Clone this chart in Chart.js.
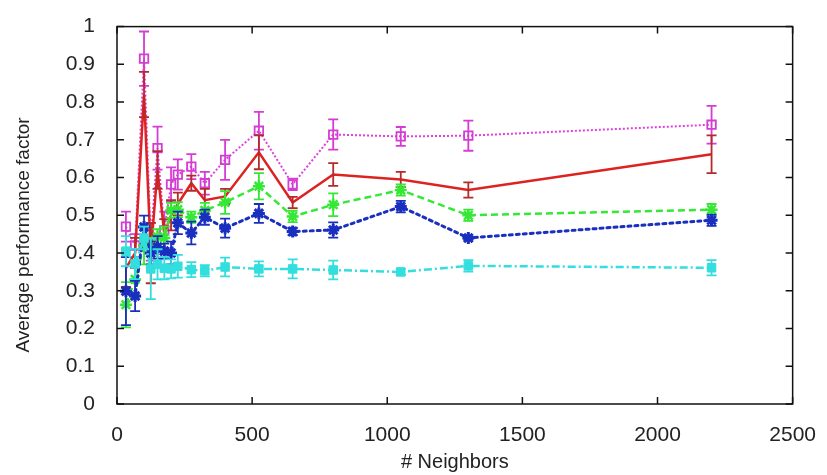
<!DOCTYPE html>
<html>
<head>
<meta charset="utf-8">
<title>Average performance factor</title>
<script src="https://cdn.jsdelivr.net/npm/chart.js@4.4.0/dist/chart.umd.min.js"></script>
<style>
  html, body { margin: 0; padding: 0; background: #fff; }
  #wrap { width: 827px; height: 475px; }
</style>
</head>
<body>
<div id="wrap"><canvas id="perfChart" width="827" height="475"></canvas></div>
<script>
// x values (# neighbors)
const neighbors = [33, 67, 100, 125, 150, 175, 200, 225, 275, 325, 400, 525, 650, 800, 1050, 1300, 2200];

// series values + error half widths
const magentaVals = [0.47, 0.42, 0.915, 0.43, 0.678, 0.46, 0.582, 0.608, 0.629, 0.585, 0.647, 0.724, 0.582, 0.714, 0.709, 0.711, 0.74];
const magentaErr  = [0.04, 0.03, 0.072, 0.05, 0.057, 0.05, 0.045, 0.04, 0.033, 0.03, 0.053, 0.05, 0.015, 0.04, 0.025, 0.04, 0.05];

const redVals = [0.36, 0.40, 0.82, 0.40, 0.62, 0.45, 0.50, 0.53, 0.585, 0.54, 0.55, 0.667, 0.534, 0.608, 0.595, 0.567, 0.662];
const redErr  = [0.05, 0.04, 0.06, 0.08, 0.05, 0.04, 0.04, 0.03, 0.02, 0.03, 0.02, 0.045, 0.015, 0.03, 0.02, 0.02, 0.05];

const greenVals = [0.263, 0.33, 0.42, 0.40, 0.443, 0.44, 0.513, 0.515, 0.495, 0.513, 0.534, 0.577, 0.497, 0.528, 0.567, 0.50, 0.515];
const greenErr  = [0.06, 0.05, 0.05, 0.04, 0.02, 0.03, 0.02, 0.02, 0.015, 0.02, 0.03, 0.035, 0.015, 0.03, 0.015, 0.015, 0.015];

const blueVals = [0.299, 0.286, 0.469, 0.40, 0.415, 0.405, 0.40, 0.48, 0.453, 0.495, 0.466, 0.505, 0.457, 0.461, 0.523, 0.44, 0.487];
const blueErr  = [0.09, 0.04, 0.03, 0.03, 0.03, 0.02, 0.03, 0.03, 0.03, 0.02, 0.025, 0.025, 0.01, 0.02, 0.015, 0.005, 0.015];

const cyanVals = [0.405, 0.371, 0.44, 0.358, 0.37, 0.36, 0.358, 0.365, 0.356, 0.353, 0.363, 0.358, 0.358, 0.355, 0.35, 0.366, 0.361];
const cyanErr  = [0.04, 0.04, 0.03, 0.08, 0.04, 0.03, 0.025, 0.03, 0.02, 0.015, 0.025, 0.02, 0.025, 0.025, 0.008, 0.015, 0.02];

// axis ticks
const xTicks = [0, 500, 1000, 1500, 2000, 2500];
const yTicks = [0, 0.1, 0.2, 0.3, 0.4, 0.5, 0.6, 0.7, 0.8, 0.9, 1];

const FONT = '"Liberation Sans", Arial, sans-serif';
const TEXT = '#222';

const toPoints = (vals) => vals.map((v, i) => ({ x: neighbors[i], y: v }));

function series(label, vals, err, opts) {
    return Object.assign({
        label: label,
        data: toPoints(vals),
        errors: err,
        showLine: true,
        fill: false,
        tension: 0,
        pointHoverRadius: 0
    }, opts);
}

const datasets = [
    series('cyan', cyanVals, cyanErr, {
        borderColor: '#33dede', backgroundColor: '#33dede', borderWidth: 2.5,
        borderDash: [8, 3, 2, 3], pointStyle: 'rect', pointRadius: 6,
        pointBorderWidth: 1, barColor: '#33dede'
    }),
    series('blue', blueVals, blueErr, {
        borderColor: '#1a2fbf', backgroundColor: '#1a2fbf', borderWidth: 3,
        borderDash: [3, 4], borderCapStyle: 'round', pointStyle: 'star', pointRadius: 6,
        pointBorderWidth: 3, barColor: '#1a2fbf'
    }),
    series('green', greenVals, greenErr, {
        borderColor: '#35e835', backgroundColor: '#35e835', borderWidth: 2.5,
        borderDash: [7, 4], pointStyle: 'star', pointRadius: 6,
        pointBorderWidth: 2.5, barColor: '#35e835'
    }),
    series('red', redVals, redErr, {
        borderColor: '#dd2222', backgroundColor: '#dd2222', borderWidth: 2.5,
        pointRadius: 0, barColor: '#b52a2a'
    }),
    series('magenta', magentaVals, magentaErr, {
        borderColor: '#e040e0', backgroundColor: 'rgba(0,0,0,0)', borderWidth: 2,
        borderDash: [2, 2], pointStyle: 'rect', pointRadius: 6,
        pointBorderWidth: 1.8, pointBorderColor: '#d43cd4', barColor: '#d43cd4'
    })
];

// vertical error bars with caps, drawn after each dataset
const errorBars = {
    id: 'errorBars',
    afterDatasetDraw(chart, args) {
        const ds = chart.data.datasets[args.index];
        if (!ds.errors) return;
        const ctx = chart.ctx;
        const xs = chart.scales.x, ys = chart.scales.y;
        ctx.save();
        ctx.strokeStyle = ds.barColor || ds.borderColor;
        ctx.lineWidth = 1.8;
        ctx.setLineDash([]);
        ds.data.forEach((p, i) => {
            const e = ds.errors[i];
            const px = xs.getPixelForValue(p.x);
            const top = ys.getPixelForValue(p.y + e);
            const bot = ys.getPixelForValue(p.y - e);
            ctx.beginPath();
            ctx.moveTo(px, top); ctx.lineTo(px, bot);
            ctx.moveTo(px - 5, top); ctx.lineTo(px + 5, top);
            ctx.moveTo(px - 5, bot); ctx.lineTo(px + 5, bot);
            ctx.stroke();
        });
        ctx.restore();
    }
};

// box border with inward ticks on all four sides, plus axis titles
const frame = {
    id: 'frame',
    afterDraw(chart) {
        const ctx = chart.ctx;
        const a = chart.chartArea;
        const xs = chart.scales.x, ys = chart.scales.y;
        const len = 7;
        ctx.save();
        ctx.strokeStyle = '#111';
        ctx.lineWidth = 1.5;
        ctx.strokeRect(a.left, a.top, a.right - a.left, a.bottom - a.top);
        ctx.beginPath();
        xs.ticks.forEach(t => {
            const px = xs.getPixelForValue(t.value);
            ctx.moveTo(px, a.bottom); ctx.lineTo(px, a.bottom - len);
            ctx.moveTo(px, a.top); ctx.lineTo(px, a.top + len);
        });
        ys.ticks.forEach(t => {
            const py = ys.getPixelForValue(t.value);
            ctx.moveTo(a.left, py); ctx.lineTo(a.left + len, py);
            ctx.moveTo(a.right, py); ctx.lineTo(a.right - len, py);
        });
        ctx.stroke();

        ctx.fillStyle = TEXT;
        ctx.textAlign = 'center';
        ctx.textBaseline = 'middle';
        ctx.font = '20px ' + FONT;
        ctx.fillText('# Neighbors', (a.left + a.right) / 2, 462);
        ctx.translate(24, 235);
        ctx.rotate(-Math.PI / 2);
        ctx.font = '19px ' + FONT;
        ctx.fillText('Average performance factor', 0, 0);
        ctx.restore();
    }
};

new Chart(document.getElementById('perfChart'), {
    type: 'scatter',
    data: { datasets: datasets },
    options: {
        responsive: false,
        animation: false,
        devicePixelRatio: 1,
        layout: { padding: { top: 15, right: 33, left: 0, bottom: 0 } },
        plugins: {
            legend: { display: false },
            tooltip: { enabled: false }
        },
        scales: {
            x: {
                type: 'linear',
                min: 0, max: 2500,
                afterBuildTicks: (s) => { s.ticks = xTicks.map(v => ({ value: v })); },
                afterFit: (s) => { s.height = 71; },
                grid: { display: false },
                border: { display: false },
                ticks: {
                    color: TEXT, font: { family: FONT, size: 21 }, padding: 11, maxRotation: 0,
                    callback: (v) => String(v)
                }
            },
            y: {
                type: 'linear',
                min: 0, max: 1,
                afterBuildTicks: (s) => { s.ticks = yTicks.map(v => ({ value: v })); },
                afterFit: (s) => { s.width = 117; },
                grid: { display: false },
                border: { display: false },
                ticks: {
                    color: TEXT, font: { family: FONT, size: 21 }, padding: 14,
                    callback: (v) => String(v)
                }
            }
        }
    },
    plugins: [errorBars, frame]
});
</script>
</body>
</html>
